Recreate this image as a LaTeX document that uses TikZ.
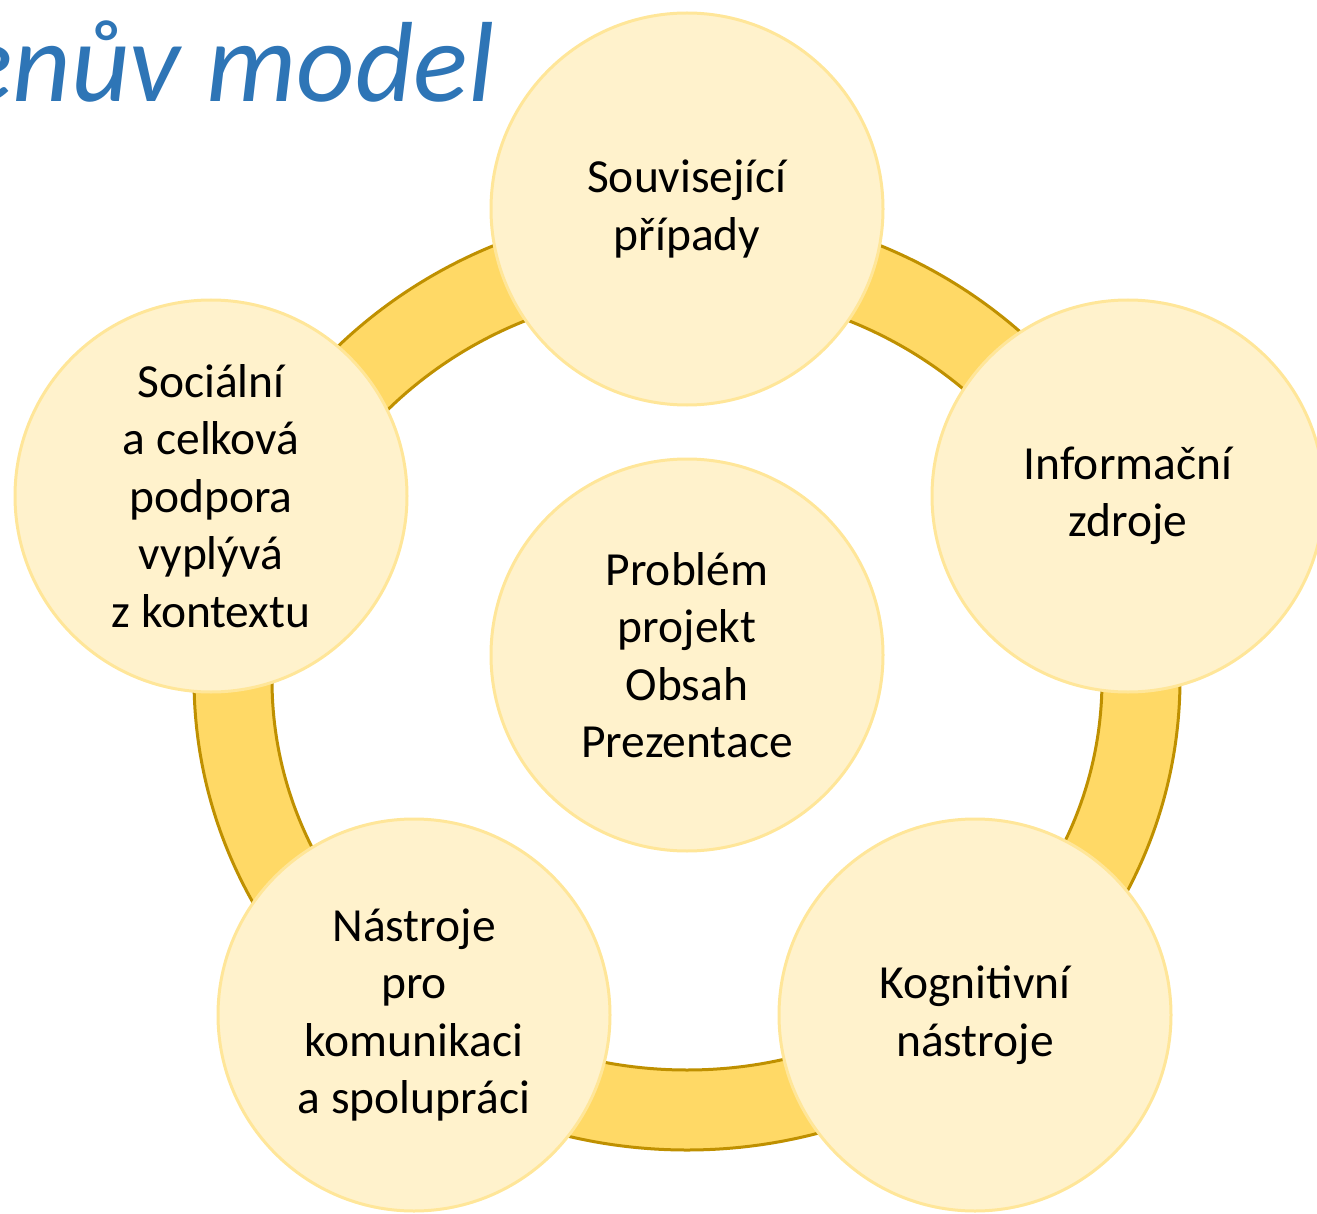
\documentclass[tikz,border=0pt]{standalone}
\usepackage{fontspec}
\setmainfont{Carlito}
\definecolor{titleblue}{HTML}{2E75B6}
\definecolor{ringfill}{HTML}{FFD966}
\definecolor{ringline}{HTML}{BF9000}
\definecolor{circfill}{HTML}{FFF2CC}
\definecolor{circline}{HTML}{FFE699}
\tikzset{
  bubble/.style={circle, fill=circfill, draw=circline, line width=3pt,
    minimum size=392pt, inner sep=0pt, align=center,
    font=\fontsize{47.5}{57.5}\selectfont, text=black},
  ringstyle/.style={fill=ringfill, draw=ringline, line width=3pt, even odd rule},
  titlestyle/.style={font=\fontsize{114}{136}\selectfont\itshape, text=titleblue, inner sep=0pt}
}
\begin{document}
\begin{tikzpicture}[x=1pt,y=-1pt]
\useasboundingbox (0,0) rectangle (1317,1214);
\node[titlestyle, anchor=base west] (title) at (-42,102) {enův model};
\path[ringstyle] (687,679) ellipse [x radius=493pt, y radius=471pt]
                 (687,680) ellipse [x radius=415pt, y radius=390pt];
\node[bubble] (top) at (687,209) {Související\\případy};
\node[bubble] (right) at (1128,496) {Informační\\zdroje};
\node[bubble] (bright) at (975,1015) {Kognitivní\\nástroje};
\node[bubble] (bleft) at (414,1015) {Nástroje\\pro\\komunikaci\\a spolupráci};
\node[bubble] (left) at (211,496) {Sociální\\a celková\\podpora\\vyplývá\\z kontextu};
\node[bubble] (center) at (687,655) {Problém\\projekt\\Obsah\\Prezentace};
\end{tikzpicture}
\end{document}
